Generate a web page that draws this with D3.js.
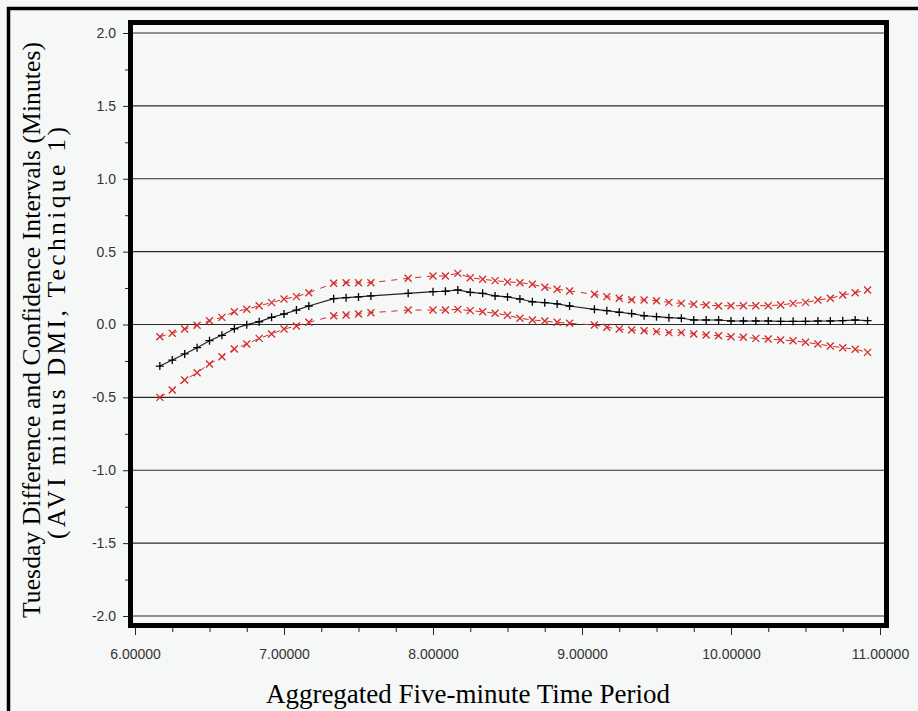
<!DOCTYPE html>
<html>
<head>
<meta charset="utf-8">
<script src="https://cdn.jsdelivr.net/npm/d3@7"></script>
<style>
  html, body { margin: 0; padding: 0; background: #f6f8f7; }
  svg { display: block; }
  .tick text { font-family: "Liberation Sans", Arial, sans-serif; font-size: 14px; fill: #333; }
  .axis-title { font-family: "Liberation Serif", "Times New Roman", serif; fill: #000; }
</style>
</head>
<body>
<div id="chart"></div>
<script>
// time period (decimal hours), a few five-minute periods have no value
const periods = [
  6.1667, 6.25, 6.3333, 6.4167, 6.5, 6.5833, 6.6667, 6.75, 6.8333, 6.9167,
  7.0, 7.0833, 7.1667, 7.3333, 7.4167, 7.5, 7.5833, 7.8333,
  8.0, 8.0833, 8.1667, 8.25, 8.3333, 8.4167, 8.5, 8.5833, 8.6667, 8.75, 8.8333, 8.9167,
  9.0833, 9.1667, 9.25, 9.3333, 9.4167, 9.5, 9.5833, 9.6667, 9.75, 9.8333, 9.9167,
  10.0, 10.0833, 10.1667, 10.25, 10.3333, 10.4167, 10.5, 10.5833, 10.6667, 10.75, 10.8333, 10.9167
];

// mean difference (AVI minus DMI), minutes
const difference = [
  -0.285, -0.244, -0.202, -0.159, -0.111, -0.074, -0.029, -0.001, 0.019, 0.049,
  0.072, 0.099, 0.127, 0.177, 0.184, 0.189, 0.196, 0.214,
  0.225, 0.228, 0.237, 0.221, 0.214, 0.196, 0.189, 0.175, 0.156, 0.150, 0.141, 0.127,
  0.104, 0.095, 0.084, 0.075, 0.060, 0.054, 0.047, 0.043, 0.031, 0.031, 0.031,
  0.024, 0.024, 0.024, 0.024, 0.022, 0.022, 0.022, 0.024, 0.024, 0.026, 0.031, 0.026
];

// upper confidence limit
const upperLimit = [
  -0.084, -0.060, -0.031, -0.005, 0.026, 0.049, 0.088, 0.105, 0.129, 0.150,
  0.175, 0.191, 0.218, 0.283, 0.287, 0.287, 0.287, 0.317,
  0.333, 0.333, 0.351, 0.321, 0.310, 0.301, 0.292, 0.287, 0.276, 0.255, 0.242, 0.230,
  0.207, 0.191, 0.180, 0.170, 0.168, 0.163, 0.152, 0.145, 0.139, 0.134, 0.127,
  0.129, 0.129, 0.129, 0.129, 0.134, 0.145, 0.152, 0.168, 0.180, 0.202, 0.218, 0.237
];

// lower confidence limit
const lowerLimit = [
  -0.500, -0.449, -0.381, -0.331, -0.271, -0.221, -0.168, -0.134, -0.095, -0.065,
  -0.031, -0.010, 0.015, 0.060, 0.065, 0.072, 0.081, 0.099,
  0.099, 0.099, 0.104, 0.095, 0.088, 0.077, 0.063, 0.043, 0.031, 0.024, 0.015, 0.008,
  -0.003, -0.019, -0.031, -0.038, -0.043, -0.049, -0.056, -0.056, -0.065, -0.072, -0.077,
  -0.084, -0.088, -0.095, -0.099, -0.106, -0.111, -0.122, -0.134, -0.148, -0.159, -0.170, -0.191
];

const xTicks = [6, 7, 8, 9, 10, 11];
const yTicks = [-2, -1.5, -1, -0.5, 0, 0.5, 1, 1.5, 2];

class CIChart {
  constructor(_config) {
    this.config = {
      parentElement: _config.parentElement,
      containerWidth: 918,
      containerHeight: 711,
      // plot frame (centre of the thick border)
      frame: { left: 130.5, top: 22.5, right: 886.5, bottom: 625.5 }
    };
    this.initVis();
  }

  initVis() {
    let vis = this;
    const f = vis.config.frame;

    vis.svg = d3.select(vis.config.parentElement).append('svg')
      .attr('width', vis.config.containerWidth)
      .attr('height', vis.config.containerHeight);

    vis.svg.append('rect')
      .attr('width', vis.config.containerWidth)
      .attr('height', vis.config.containerHeight)
      .attr('fill', '#f6f8f7');

    // outer frame, runs off the right and bottom edges
    vis.svg.append('rect')
      .attr('x', 8.5).attr('y', 8.5)
      .attr('width', 1000).attr('height', 1000)
      .attr('fill', 'none')
      .attr('stroke', '#000')
      .attr('stroke-width', 3.5);

    vis.xScale = d3.scaleLinear().domain([6, 11]).range([135, 880]);
    vis.yScale = d3.scaleLinear().domain([-2, 2]).range([616, 33]);

    // gridlines
    vis.svg.append('g')
      .selectAll('line')
      .data(yTicks)
      .join('line')
      .attr('x1', f.left).attr('x2', f.right)
      .attr('y1', d => vis.yScale(d)).attr('y2', d => vis.yScale(d))
      .attr('stroke', '#2a2a2a')
      .attr('stroke-width', 1.1);

    // minor ticks
    const yMinor = d3.range(-1.75, 2, 0.5);
    const xMinor = d3.range(6.25, 11, 0.25).filter(d => Math.abs(d - Math.round(d)) > 0.01);

    vis.svg.append('g')
      .attr('transform', `translate(${f.left - 2.5},0)`)
      .call(d3.axisLeft(vis.yScale).tickValues(yMinor).tickSize(3).tickFormat(''))
      .call(g => g.select('.domain').remove());

    vis.svg.append('g')
      .attr('transform', `translate(0,${f.bottom + 2.5})`)
      .call(d3.axisBottom(vis.xScale).tickValues(xMinor).tickSize(4).tickFormat(''))
      .call(g => g.select('.domain').remove());

    // major axes
    vis.svg.append('g')
      .attr('transform', `translate(${f.left - 2.5},0)`)
      .call(d3.axisLeft(vis.yScale).tickValues(yTicks).tickSize(5).tickPadding(7)
        .tickFormat(d => d.toFixed(1)))
      .call(g => g.select('.domain').remove());

    vis.svg.append('g')
      .attr('transform', `translate(0,${f.bottom + 2.5})`)
      .call(d3.axisBottom(vis.xScale).tickValues(xTicks).tickSize(7).tickPadding(14)
        .tickFormat(d => d.toFixed(5)))
      .call(g => g.select('.domain').remove());

    vis.svg.selectAll('.tick line').attr('stroke', '#222');

    // plot frame
    vis.svg.append('rect')
      .attr('x', f.left).attr('y', f.top)
      .attr('width', f.right - f.left).attr('height', f.bottom - f.top)
      .attr('fill', 'none')
      .attr('stroke', '#000')
      .attr('stroke-width', 5);

    // axis titles
    vis.svg.append('text')
      .attr('class', 'axis-title')
      .attr('x', 468).attr('y', 703)
      .attr('text-anchor', 'middle')
      .attr('font-size', 27)
      .text('Aggregated Five-minute Time Period');

    vis.svg.append('text')
      .attr('class', 'axis-title')
      .attr('transform', 'translate(40,330) rotate(-90)')
      .attr('text-anchor', 'middle')
      .attr('font-size', 25.5)
      .attr('textLength', 576)
      .attr('lengthAdjust', 'spacing')
      .text('Tuesday Difference and Confidence Intervals (Minutes)');

    vis.svg.append('text')
      .attr('class', 'axis-title')
      .attr('transform', 'translate(65,333) rotate(-90)')
      .attr('text-anchor', 'middle')
      .attr('font-size', 25.5)
      .attr('textLength', 412)
      .attr('lengthAdjust', 'spacing')
      .text('(AVI minus DMI, Technique 1)');

    vis.renderVis();
  }

  renderVis() {
    let vis = this;
    const red = '#d42a2a';

    const series = (vals) => periods.map((p, i) => ({ x: p, y: vals[i] }));
    const line = d3.line().x(d => vis.xScale(d.x)).y(d => vis.yScale(d.y));

    // confidence limits: dashed red with x markers
    [upperLimit, lowerLimit].forEach(vals => {
      const pts = series(vals);
      vis.svg.append('path')
        .datum(pts)
        .attr('d', line)
        .attr('fill', 'none')
        .attr('stroke', red)
        .attr('stroke-width', 1)
        .attr('stroke-dasharray', '6,6');

      vis.svg.append('g')
        .selectAll('path')
        .data(pts)
        .join('path')
        .attr('transform', d => `translate(${vis.xScale(d.x)},${vis.yScale(d.y)})`)
        .attr('d', 'M-3.5,-3.5L3.5,3.5M3.5,-3.5L-3.5,3.5')
        .attr('stroke', red)
        .attr('stroke-width', 1.3);
    });

    // difference: solid black with + markers
    const diff = series(difference);
    vis.svg.append('path')
      .datum(diff)
      .attr('d', line)
      .attr('fill', 'none')
      .attr('stroke', '#222')
      .attr('stroke-width', 1.2);

    vis.svg.append('g')
      .selectAll('path')
      .data(diff)
      .join('path')
      .attr('transform', d => `translate(${vis.xScale(d.x)},${vis.yScale(d.y)})`)
      .attr('d', 'M-4,0L4,0M0,-4L0,4')
      .attr('stroke', '#000')
      .attr('stroke-width', 1.3);
  }
}

new CIChart({ parentElement: '#chart' });
</script>
</body>
</html>
